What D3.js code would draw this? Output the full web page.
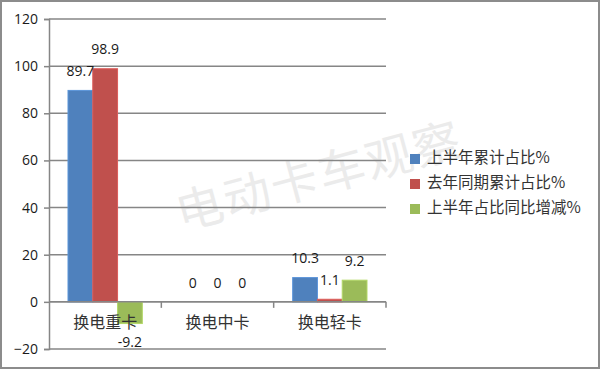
<!DOCTYPE html>
<html>
<head>
<meta charset="utf-8">
<script src="https://cdn.jsdelivr.net/npm/d3@7"></script>
<style>
  body { margin: 0; background: #fff; }
  svg text { font-family: "Open Sans", "Noto Sans CJK SC", sans-serif; }
</style>
</head>
<body>
<div id="chart"></div>
<script>
// chart data
const categories = ['换电重卡', '换电中卡', '换电轻卡'];
const seriesNames = ['上半年累计占比%', '去年同期累计占比%', '上半年占比同比增减%'];
const firstHalf = [89.7, 0, 10.3];
const lastYear = [98.9, 0, 1.1];
const change = [-9.2, 0, 9.2];
const yTicks = [-20, 0, 20, 40, 60, 80, 100, 120];
const colors = ['#4f81bd', '#c0504d', '#9bbb59'];

const width = 600;
const height = 369;
const margin = { top: 19, right: 214, bottom: 20, left: 49 };

const series = [firstHalf, lastYear, change];

const svg = d3.select('#chart').append('svg')
  .attr('width', width)
  .attr('height', height);

// outer frame
svg.append('rect')
  .attr('x', 1).attr('y', 1)
  .attr('width', width - 2).attr('height', height - 2)
  .attr('fill', '#fff')
  .attr('stroke', '#8c8c8c')
  .attr('stroke-width', 2);

const y = d3.scaleLinear()
  .domain([-20, 120])
  .range([height - margin.bottom, margin.top]);

const x = d3.scaleBand()
  .domain(categories)
  .range([margin.left, width - margin.right]);

const inner = d3.scaleBand()
  .domain(d3.range(series.length))
  .range([19, x.bandwidth() - 19]);

// watermark
svg.append('text')
  .attr('transform', 'translate(320,180) rotate(-15)')
  .attr('text-anchor', 'middle')
  .attr('dominant-baseline', 'middle')
  .style('font-family', '"Noto Sans CJK SC", sans-serif')
  .style('font-size', '47px')
  .style('letter-spacing', '2px')
  .attr('fill', '#ebebeb')
  .text('电动卡车观察');

// gridlines
svg.append('g')
  .selectAll('line')
  .data(yTicks)
  .enter().append('line')
  .attr('x1', margin.left)
  .attr('x2', width - margin.right)
  .attr('y1', d => y(d))
  .attr('y2', d => y(d))
  .attr('stroke', '#868686')
  .attr('stroke-width', 1.5);

// y axis
const yAxis = svg.append('g')
  .attr('transform', `translate(${margin.left},0)`)
  .call(d3.axisLeft(y).tickValues(yTicks).tickSize(5).tickPadding(6));
yAxis.select('.domain').attr('stroke', '#868686').attr('stroke-width', 1.5);
yAxis.selectAll('.tick line').attr('stroke', '#868686').attr('stroke-width', 1.5);
yAxis.selectAll('.tick text')
  .attr('fill', '#1a1a1a')
  .style('font-size', '14px');

// bars
const group = svg.append('g')
  .selectAll('g')
  .data(categories)
  .enter().append('g')
  .attr('transform', d => `translate(${x(d)},0)`);

group.selectAll('rect')
  .data((c, i) => series.map((s, k) => ({ k, v: s[i] })))
  .enter().append('rect')
  .attr('x', d => inner(d.k))
  .attr('y', d => y(Math.max(0, d.v)))
  .attr('width', inner.bandwidth())
  .attr('height', d => Math.abs(y(d.v) - y(0)))
  .attr('fill', d => colors[d.k])
  .attr('stroke', d => d3.color(colors[d.k]).brighter(0.4))
  .attr('stroke-width', 1);

// value labels
group.selectAll('text.val')
  .data((c, i) => series.map((s, k) => ({ k, v: s[i] })))
  .enter().append('text')
  .attr('class', 'val')
  .attr('x', d => inner(d.k) + inner.bandwidth() / 2)
  .attr('y', d => d.v < 0 ? y(d.v) + 20 : y(d.v) - 18)
  .attr('text-anchor', 'middle')
  .attr('dominant-baseline', 'middle')
  .attr('fill', '#1a1a1a')
  .style('font-size', '14px')
  .text(d => d.v);

// zero line + category ticks
svg.append('line')
  .attr('x1', margin.left).attr('x2', width - margin.right)
  .attr('y1', y(0)).attr('y2', y(0))
  .attr('stroke', '#868686').attr('stroke-width', 1.5);

svg.append('g')
  .selectAll('line')
  .data(categories.map(c => x(c) + x.bandwidth()))
  .enter().append('line')
  .attr('x1', d => d).attr('x2', d => d)
  .attr('y1', y(0)).attr('y2', y(0) + 6)
  .attr('stroke', '#868686').attr('stroke-width', 1.5);

// category labels
svg.append('g')
  .selectAll('text')
  .data(categories)
  .enter().append('text')
  .attr('x', d => x(d) + x.bandwidth() / 2)
  .attr('y', y(0) + 22)
  .attr('text-anchor', 'middle')
  .attr('dominant-baseline', 'middle')
  .attr('fill', '#333')
  .style('font-family', '"Noto Sans CJK SC", sans-serif')
  .style('font-size', '16px')
  .text(d => d);

// legend
const legend = svg.append('g')
  .selectAll('g')
  .data(seriesNames)
  .enter().append('g')
  .attr('transform', (d, i) => `translate(410,${159 + i * 25})`);

legend.append('rect')
  .attr('x', 0).attr('y', -5)
  .attr('width', 10).attr('height', 10)
  .attr('fill', (d, i) => colors[i]);

legend.append('text')
  .attr('x', 17)
  .attr('y', 0)
  .attr('dominant-baseline', 'middle')
  .attr('fill', '#333')
  .style('font-family', '"Noto Sans CJK SC", sans-serif')
  .style('font-size', '15.5px')
  .text(d => d);
</script>
</body>
</html>
